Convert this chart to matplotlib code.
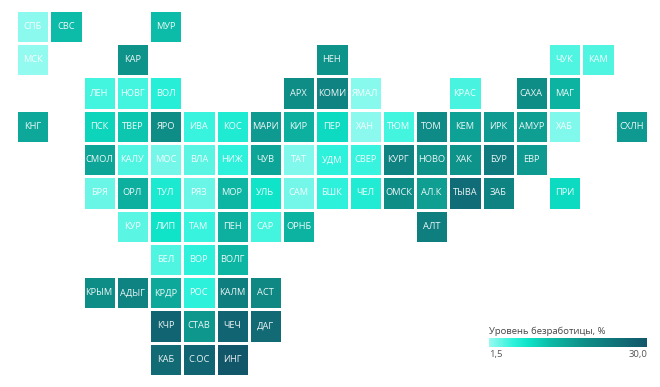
import numpy as np
import matplotlib
matplotlib.use("Agg")
import matplotlib.pyplot as plt
from matplotlib.colors import LinearSegmentedColormap, Normalize

# Tile-grid layout of the regions (None = empty tile)
labels = [
    ["СПБ", "СВС", None, None, "МУР", None, None, None, None, None, None, None, None, None, None, None, None, None, None],
    ["МСК", None, None, "КАР", None, None, None, None, None, "НЕН", None, None, None, None, None, None, "ЧУК", "КАМ", None],
    [None, None, "ЛЕН", "НОВГ", "ВОЛ", None, None, None, "АРХ", "КОМИ", "ЯМАЛ", None, None, "КРАС", None, "САХА", "МАГ", None, None],
    ["КНГ", None, "ПСК", "ТВЕР", "ЯРО", "ИВА", "КОС", "МАРИ", "КИР", "ПЕР", "ХАН", "ТЮМ", "ТОМ", "КЕМ", "ИРК", "АМУР", "ХАБ", None, "СХЛН"],
    [None, None, "СМОЛ", "КАЛУ", "МОС", "ВЛА", "НИЖ", "ЧУВ", "ТАТ", "УДМ", "СВЕР", "КУРГ", "НОВО", "ХАК", "БУР", "ЕВР", None, None, None],
    [None, None, "БРЯ", "ОРЛ", "ТУЛ", "РЯЗ", "МОР", "УЛЬ", "САМ", "БШК", "ЧЕЛ", "ОМСК", "АЛ.К", "ТЫВА", "ЗАБ", None, "ПРИ", None, None],
    [None, None, None, "КУР", "ЛИП", "ТАМ", "ПЕН", "САР", "ОРНБ", None, None, None, "АЛТ", None, None, None, None, None, None],
    [None, None, None, None, "БЕЛ", "ВОР", "ВОЛГ", None, None, None, None, None, None, None, None, None, None, None, None],
    [None, None, "КРЫМ", "АДЫГ", "КРДР", "РОС", "КАЛМ", "АСТ", None, None, None, None, None, None, None, None, None, None, None],
    [None, None, None, None, "КЧР", "СТАВ", "ЧЕЧ", "ДАГ", None, None, None, None, None, None, None, None, None, None, None],
    [None, None, None, None, "КАБ", "С.ОС", "ИНГ", None, None, None, None, None, None, None, None, None, None, None, None],
]
n = np.nan
values = [
    [2.0, 12.5, n, n, 12.5, n, n, n, n, n, n, n, n, n, n, n, n, n, n],
    [1.8, n, n, 18.0, n, n, n, n, n, 18.0, n, n, n, n, n, n, 4.5, 4.5, n],
    [n, n, 5.0, 5.0, 6.5, n, n, n, 19.0, 21.0, 2.2, n, n, 4.8, n, 19.0, 13.5, n, n],
    [15.0, n, 10.0, 11.5, 19.0, 5.5, 7.2, 17.0, 14.0, 9.5, 2.0, 5.0, 19.5, 16.0, 17.0, 16.5, 2.5, n, 17.0],
    [n, n, 15.5, 4.5, 3.0, 4.0, 6.0, 15.5, 2.5, 6.0, 5.5, 21.0, 18.0, 18.0, 22.5, 17.0, n, n, n],
    [n, n, 3.5, 14.0, 7.5, 3.5, 13.0, 8.5, 3.0, 6.0, 7.0, 19.0, 16.5, 25.5, 21.0, n, 9.5, n, n],
    [n, n, n, 4.0, 8.5, 5.5, 14.0, 5.0, 13.5, n, n, n, 22.0, n, n, n, n, n, n],
    [n, n, n, n, 4.5, 6.0, 13.0, n, n, n, n, n, n, n, n, n, n, n, n],
    [n, n, 19.0, 21.0, 15.0, 6.0, 22.0, 20.0, n, n, n, n, n, n, n, n, n, n, n],
    [n, n, n, n, 27.0, 17.5, 27.0, 26.0, n, n, n, n, n, n, n, n, n, n, n],
    [n, n, n, n, 26.0, 27.0, 30.0, n, n, n, n, n, n, n, n, n, n, n, n],
]
vmin, vmax = 1.5, 30.0
legend_title = "Уровень безработицы, %"
legend_ticks = [1.5, 30.0]
legend_ticklabels = ["1,5", "30,0"]

W, H = 660, 387
plt.rcParams["font.family"] = ["Open Sans", "DejaVu Sans"]
cmap = LinearSegmentedColormap.from_list(
    "unemp",
    [(0.0, "#97FAF0"), (0.15, "#2FF2DB"), (0.25, "#0DE3C8"),
     (0.40, "#0DB7A4"), (0.60, "#0E8F88"), (1.0, "#12566A")],
)
norm = Normalize(vmin, vmax)

fig = plt.figure(figsize=(W / 100, H / 100), dpi=100, facecolor="white")
pitch = 33.25
ncol, nrow = len(labels[0]), len(labels)
ax = fig.add_axes([16 / W, 1 - (10 + nrow * pitch) / H, ncol * pitch / W, nrow * pitch / H])
grid = np.ma.masked_invalid(np.array(values, dtype=float))
ax.pcolormesh(np.arange(ncol + 1), np.arange(nrow + 1), grid, cmap=cmap, norm=norm,
              edgecolors="white", linewidth=0.8)
ax.set_xlim(0, ncol)
ax.set_ylim(nrow, 0)
ax.axis("off")
for r, row in enumerate(labels):
    for c, name in enumerate(row):
        if name:
            ax.text(c + 0.5, r + 0.5, name, ha="center", va="center", color="white",
                    fontsize=6.7, alpha=0.92, fontweight="medium")

cax = fig.add_axes([489 / W, 1 - 347 / H, 158 / W, 9.5 / H])
cb = fig.colorbar(plt.cm.ScalarMappable(norm=norm, cmap=cmap), cax=cax, orientation="horizontal")
cb.outline.set_visible(False)
cb.set_ticks(legend_ticks)
cb.set_ticklabels(legend_ticklabels)
cax.tick_params(length=0, pad=2, labelsize=6.8, labelcolor="#555555")
tl = cax.get_xticklabels()
tl[0].set_ha("left")
tl[1].set_ha("right")
cax.set_title(legend_title, loc="left", fontsize=6.8, color="#444444", pad=2.5)

fig.savefig("out.png", dpi=100, facecolor="white")
